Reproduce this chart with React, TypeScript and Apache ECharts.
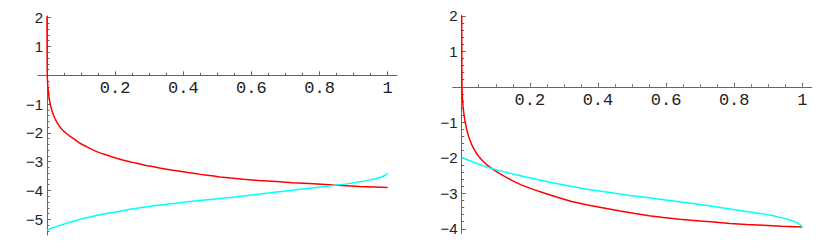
import React, { useEffect, useRef } from 'react';
import * as echarts from 'echarts';

// tick labels
const xTickLabels = [0.2, 0.4, 0.6, 0.8, 1];
const yTickLabelsLeft = [-5, -4, -3, -2, -1, 1, 2];
const yTickLabelsRight = [-4, -3, -2, -1, 1, 2];

// left panel series [x, y]
const leftRed: [number, number][] = [
  [0, 2.05], [0.0001, 1.4], [0.0003, 0.8], [0.0008, 0.0], [0.0015, -0.2], [0.0025, -0.38],
  [0.004, -0.55], [0.006, -0.76], [0.009, -0.98], [0.013, -1.17], [0.018, -1.35],
  [0.023, -1.49], [0.028, -1.61], [0.034, -1.72], [0.04, -1.82], [0.048, -1.93],
  [0.058, -2.03], [0.068, -2.12], [0.078, -2.2], [0.087, -2.28], [0.097, -2.36],
  [0.108, -2.43], [0.12, -2.5], [0.133, -2.58], [0.146, -2.65], [0.16, -2.71],
  [0.175, -2.77], [0.19, -2.83], [0.204, -2.88], [0.222, -2.94], [0.24, -2.99],
  [0.257, -3.04], [0.273, -3.08], [0.29, -3.13], [0.31, -3.17], [0.33, -3.22],
  [0.351, -3.26], [0.37, -3.3], [0.39, -3.33], [0.41, -3.37], [0.429, -3.4],
  [0.45, -3.44], [0.47, -3.47], [0.49, -3.5], [0.507, -3.53], [0.54, -3.57],
  [0.576, -3.61], [0.62, -3.65], [0.674, -3.69], [0.72, -3.73], [0.77, -3.76],
  [0.84, -3.81], [0.918, -3.86], [0.96, -3.88], [1.0, -3.9],
];
const leftCyan: [number, number][] = [
  [0, -5.38], [0.005, -5.35], [0.01, -5.33], [0.02, -5.28], [0.038, -5.21], [0.06, -5.13],
  [0.08, -5.06], [0.097, -5.0], [0.12, -4.94], [0.145, -4.87], [0.175, -4.8],
  [0.21, -4.73], [0.24, -4.66], [0.273, -4.6], [0.32, -4.52], [0.371, -4.45],
  [0.42, -4.38], [0.478, -4.31], [0.53, -4.25], [0.576, -4.19], [0.62, -4.13],
  [0.674, -4.05], [0.72, -3.99], [0.77, -3.92], [0.81, -3.87], [0.84, -3.83],
  [0.88, -3.77], [0.918, -3.7], [0.945, -3.64], [0.967, -3.58], [0.982, -3.53],
  [0.993, -3.47], [1.0, -3.4],
];

// right panel series [x, y]
const rightRed: [number, number][] = [
  [0, 2.0], [0.0001, 1.4], [0.0003, 0.8], [0.0008, 0.0], [0.002, -0.3], [0.0035, -0.5],
  [0.005, -0.65], [0.0075, -0.83], [0.01, -0.98], [0.015, -1.22], [0.021, -1.42],
  [0.029, -1.62], [0.037, -1.77], [0.045, -1.9], [0.059, -2.06], [0.073, -2.19],
  [0.088, -2.3], [0.107, -2.42], [0.127, -2.53], [0.15, -2.65], [0.176, -2.77],
  [0.21, -2.89], [0.244, -3.0], [0.283, -3.12], [0.323, -3.23], [0.37, -3.33],
  [0.421, -3.42], [0.465, -3.5], [0.509, -3.57], [0.55, -3.63], [0.592, -3.68],
  [0.64, -3.73], [0.69, -3.77], [0.74, -3.81], [0.788, -3.85], [0.836, -3.88],
  [0.886, -3.9], [0.94, -3.93], [1.0, -3.95],
];
const rightCyan: [number, number][] = [
  [0, -1.99], [0.02, -2.07], [0.039, -2.14], [0.062, -2.22], [0.088, -2.3],
  [0.13, -2.41], [0.176, -2.51], [0.225, -2.62], [0.274, -2.72], [0.32, -2.8],
  [0.372, -2.89], [0.43, -2.97], [0.494, -3.06], [0.545, -3.12], [0.592, -3.18],
  [0.64, -3.24], [0.69, -3.3], [0.74, -3.37], [0.788, -3.44], [0.836, -3.51],
  [0.886, -3.58], [0.918, -3.64], [0.944, -3.7], [0.966, -3.76], [0.983, -3.82],
  [0.993, -3.88], [1.0, -3.95],
];

function minorTicks(lo: number, hi: number, step: number, major: number): number[] {
  const out: number[] = [];
  const start = Math.ceil(lo / step - 1e-9);
  const end = Math.floor(hi / step + 1e-9);
  for (let i = start; i <= end; i++) {
    const v = Math.round(i * step * 1000) / 1000;
    const r = v / major;
    if (Math.abs(r - Math.round(r)) < 1e-6) continue;
    out.push(v);
  }
  return out;
}

const AXIS_COLOR = '#666';
const fmtY = (v: number) => (v < 0 ? '\u2212' + Math.abs(v) : String(v));

function panelAxes(
  gridIndex: number,
  xmin: number, xmax: number, ymin: number, ymax: number,
  yLabels: number[], gridWidth: number, gridHeight: number
) {
  const xMinor = minorTicks(0, 1, 0.05, 0.2);
  const yMinor = minorTicks(ymin, ymax, 0.2, 1);
  // move x axis from grid bottom up to y = 0, y axis from grid left right to x = 0
  const xOff = -(gridHeight * (0 - ymin)) / (ymax - ymin);
  const yOff = -(gridWidth * (0 - xmin)) / (xmax - xmin);
  const xAxes = [
    {
      type: 'value', gridIndex, min: xmin, max: xmax, position: 'bottom', offset: xOff,
      axisLine: { show: true, onZero: false, lineStyle: { color: AXIS_COLOR, width: 1 } },
      axisTick: { show: true, inside: true, length: 4, customValues: xTickLabels, lineStyle: { color: AXIS_COLOR } },
      axisLabel: {
        show: true, customValues: xTickLabels, margin: 5, color: '#222',
        fontFamily: 'Liberation Mono', fontSize: 17, formatter: (v: number) => String(v),
      },
      splitLine: { show: false },
    },
    {
      type: 'value', gridIndex, min: xmin, max: xmax, position: 'bottom', offset: xOff,
      axisLine: { show: false, onZero: false },
      axisTick: { show: true, inside: true, length: 2.5, customValues: xMinor, lineStyle: { color: AXIS_COLOR } },
      axisLabel: { show: false },
      splitLine: { show: false },
    },
  ];
  const yAxes = [
    {
      type: 'value', gridIndex, min: ymin, max: ymax, position: 'left', offset: yOff,
      axisLine: { show: true, onZero: false, lineStyle: { color: AXIS_COLOR, width: 1 } },
      axisTick: { show: true, inside: true, length: 4, customValues: yLabels, lineStyle: { color: AXIS_COLOR } },
      axisLabel: {
        show: true, customValues: yLabels, margin: 4, color: '#222',
        fontFamily: 'Liberation Sans', fontSize: 15, formatter: fmtY,
      },
      splitLine: { show: false },
    },
    {
      type: 'value', gridIndex, min: ymin, max: ymax, position: 'left', offset: yOff,
      axisLine: { show: false, onZero: false },
      axisTick: { show: true, inside: true, length: 2.5, customValues: yMinor, lineStyle: { color: AXIS_COLOR } },
      axisLabel: { show: false },
      splitLine: { show: false },
    },
  ];
  return { xAxes, yAxes };
}

function lineSeries(data: [number, number][], color: string, axisIndex: number) {
  return {
    type: 'line', data, xAxisIndex: axisIndex, yAxisIndex: axisIndex,
    showSymbol: false, symbol: 'none', smooth: false,
    lineStyle: { color, width: 1.5 }, itemStyle: { color },
    silent: true, clip: true,
  };
}

export default function App() {
  const ref = useRef<HTMLDivElement>(null);
  useEffect(() => {
    if (!ref.current) return;
    const chart = echarts.init(ref.current, undefined, { renderer: 'svg' });
    const L = panelAxes(0, -0.0264, 1.0273, -5.545, 2.059, yTickLabelsLeft, 359, 219);
    const R = panelAxes(1, -0.0264, 1.0276, -4.127, 2.023, yTickLabelsRight, 359, 218.3);
    chart.setOption({
      animation: false,
      backgroundColor: '#fff',
      grid: [
        { left: 38, top: 16, width: 359, height: 219, containLabel: false },
        { left: 452.7, top: 15, width: 359, height: 218.3, containLabel: false },
      ],
      xAxis: [...L.xAxes, ...R.xAxes],
      yAxis: [...L.yAxes, ...R.yAxes],
      series: [
        lineSeries(leftRed, '#ff0000', 0),
        lineSeries(leftCyan, '#00ffff', 0),
        lineSeries(rightRed, '#ff0000', 2),
        lineSeries(rightCyan, '#00ffff', 2),
      ],
    });
    return () => chart.dispose();
  }, []);
  return (
    <div
      ref={ref}
      style={{ position: 'absolute', left: 0, top: 0, width: 831, height: 245 }}
    />
  );
}
